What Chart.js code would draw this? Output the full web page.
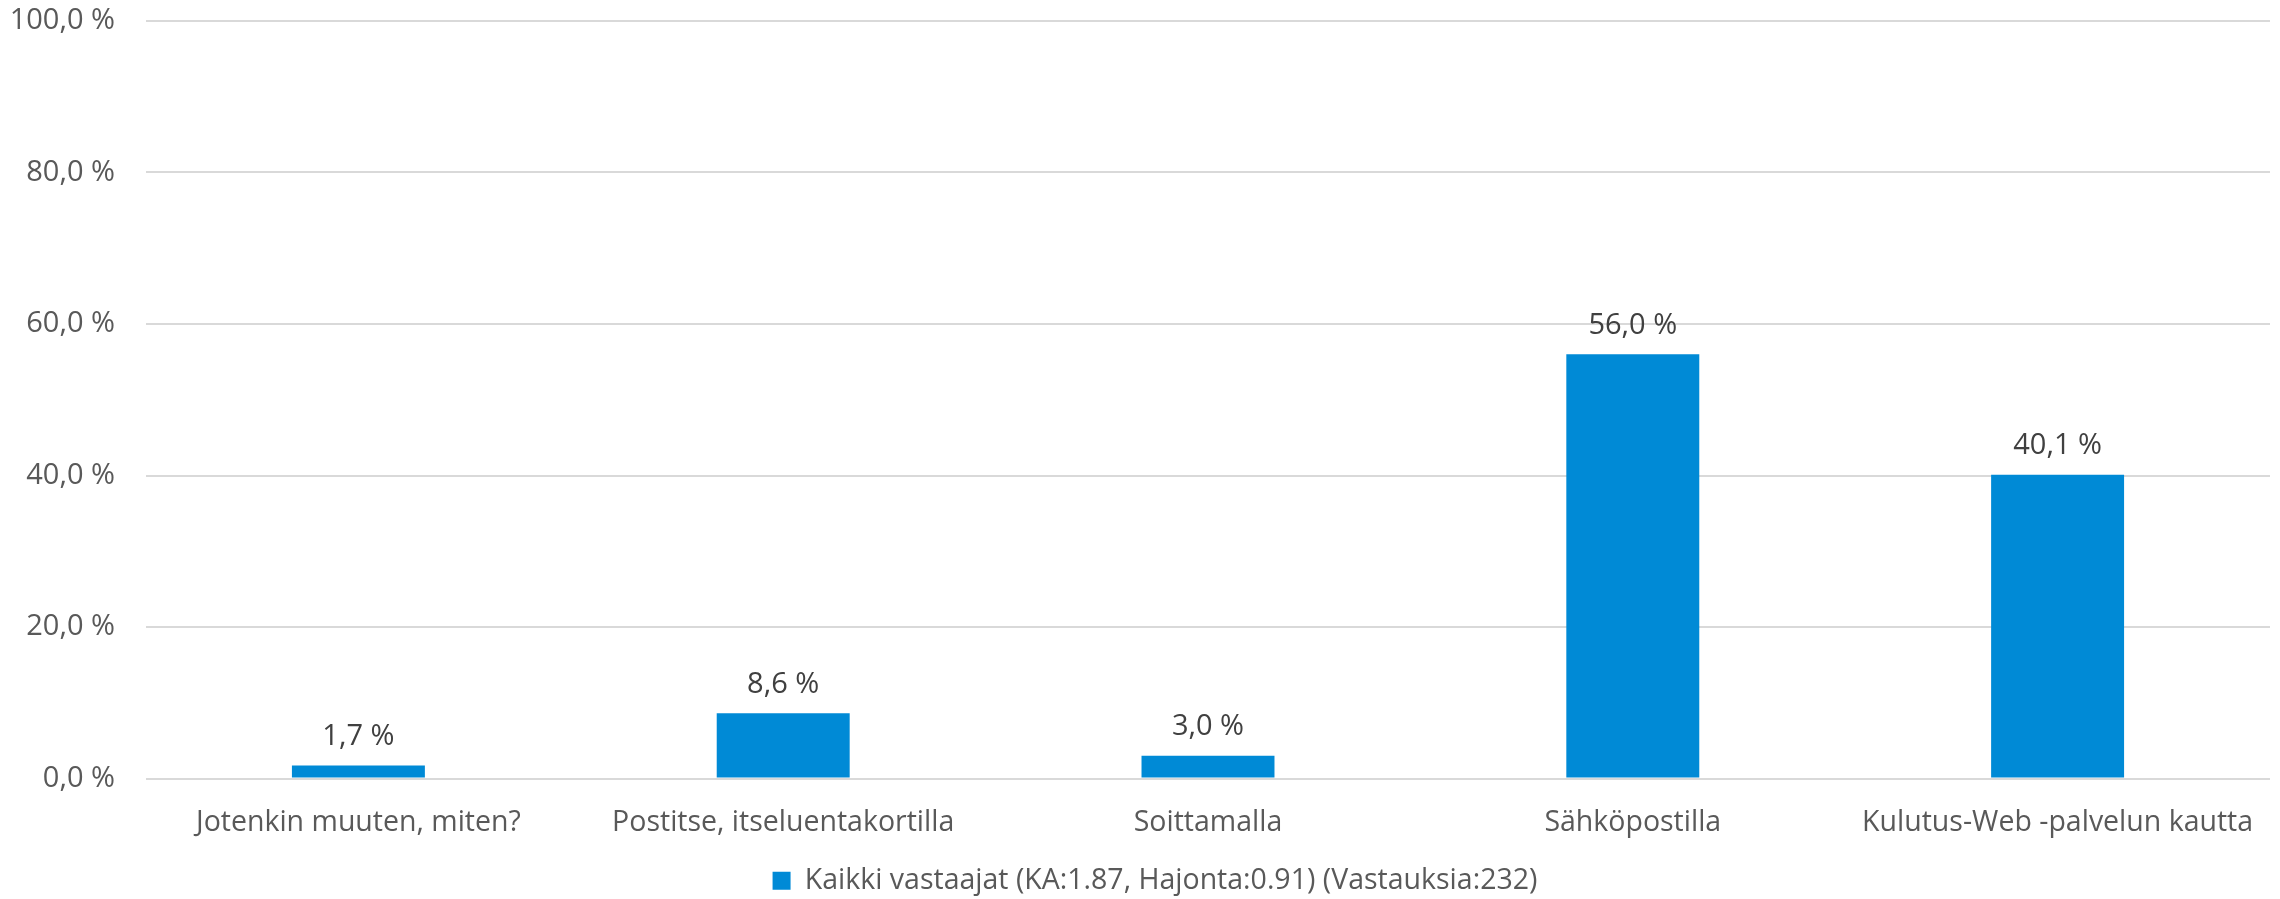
<!DOCTYPE html>
<html>
<head>
<meta charset="utf-8">
<script src="https://cdn.jsdelivr.net/npm/chart.js@4"></script>
<style>
  html, body { margin: 0; padding: 0; background: #fff; }
  #wrap { width: 2280px; height: 899px; }
</style>
</head>
<body>
<div id="wrap"><canvas id="chart" width="2280" height="899"></canvas></div>
<script>
const categories = ['Jotenkin muuten, miten?', 'Postitse, itseluentakortilla', 'Soittamalla', 'Sähköpostilla', 'Kulutus-Web -palvelun kautta'];
const values = [1.7, 8.6, 3.0, 56.0, 40.1];
const seriesLabel = 'Kaikki vastaajat (KA:1.87, Hajonta:0.91) (Vastauksia:232)';
const yTicks = [0, 20, 40, 60, 80, 100];

const fmt = v => v.toFixed(1).replace('.', ',') + ' %';

// labels above the bars
const barLabels = {
    id: 'barLabels',
    afterDatasetsDraw(chart) {
        const ctx = chart.ctx;
        const meta = chart.getDatasetMeta(0);
        ctx.save();
        ctx.font = '29px "Open Sans"';
        ctx.fillStyle = '#404040';
        ctx.textAlign = 'center';
        ctx.textBaseline = 'middle';
        meta.data.forEach((bar, i) => {
            ctx.fillText(fmt(values[i]), bar.x, bar.y - 29);
        });
        ctx.restore();
    }
};

// nudge the legend a bit right, like the original
const legendShift = {
    id: 'legendShift',
    afterLayout(chart) {
        if (chart.legend) {
            chart.legend.left += 20;
            chart.legend.right += 20;
        }
    }
};

new Chart(document.getElementById('chart'), {
    type: 'bar',
    data: {
        labels: categories,
        datasets: [{
            label: seriesLabel,
            data: values,
            backgroundColor: '#008ad6',
            borderWidth: 0,
            categoryPercentage: 1,
            barPercentage: 0.313
        }]
    },
    options: {
        responsive: false,
        animation: false,
        layout: { padding: { top: 0, right: 10, left: 0, bottom: -6 } },
        plugins: {
            legend: {
                position: 'bottom',
                labels: {
                    color: '#595959',
                    font: { family: 'Open Sans', size: 28.5 },
                    boxWidth: 18,
                    boxHeight: 18,
                    padding: 1
                }
            },
            tooltip: { enabled: false }
        },
        scales: {
            x: {
                grid: { display: false },
                border: { display: false },
                ticks: { color: '#595959', font: { family: 'Open Sans', size: 28.5 }, padding: 19, maxRotation: 0 },
                afterFit: s => { s.height = 87; }
            },
            y: {
                min: 0,
                max: 100,
                afterBuildTicks: s => { s.ticks = yTicks.map(v => ({ value: v })); },
                grid: { color: '#d9d9d9', lineWidth: 2, drawTicks: false },
                border: { display: false },
                ticks: {
                    color: '#595959',
                    font: { family: 'Open Sans', size: 29 },
                    padding: 31,
                    callback: v => fmt(v)
                },
                afterFit: s => {
                    s.width = 146;
                    s.paddingTop = 21;
                    s.paddingBottom = 0;
                }
            }
        }
    },
    plugins: [barLabels, legendShift]
});
</script>
</body>
</html>
